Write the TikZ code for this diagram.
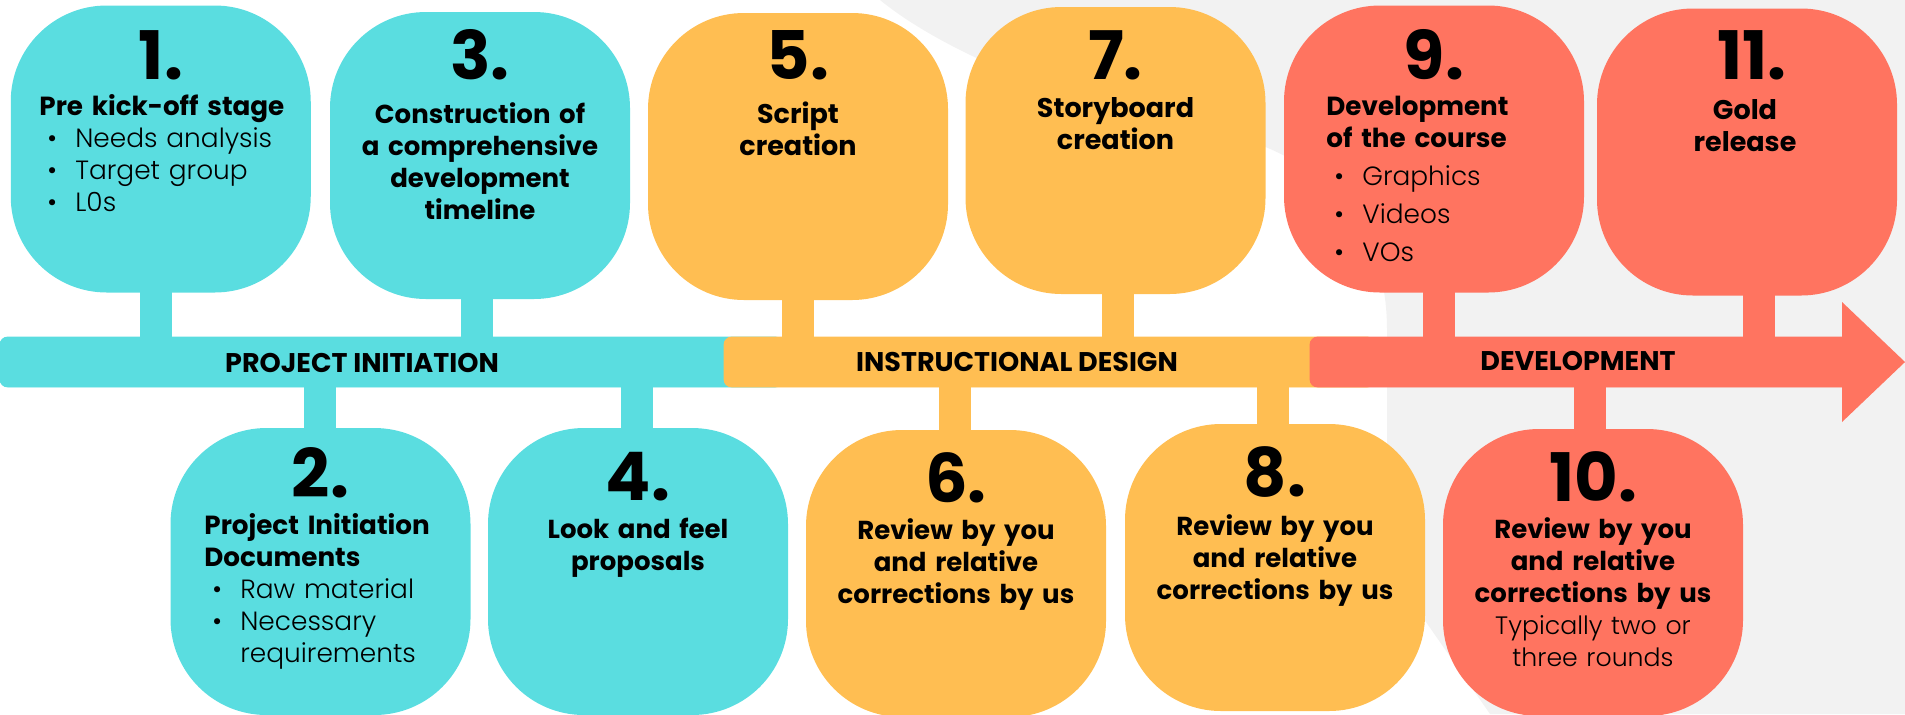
\documentclass[tikz,border=0pt]{standalone}
\usepackage{fontspec}
\setmainfont{Poppins}
\newfontfamily\lightfont{Poppins Light}
\usetikzlibrary{calc}

\definecolor{tealc}{HTML}{5ADDE0}
\definecolor{sunc}{HTML}{FFBE52}
\definecolor{coralc}{HTML}{FF7460}
\definecolor{bggray}{HTML}{F2F2F2}

\tikzset{
  card/.style={rectangle, rounded corners=48pt, minimum width=150pt,
    minimum height=143.5pt, inner sep=0pt},
  band/.style={rectangle, rounded corners=4pt, minimum height=25pt, inner sep=0pt},
  stem/.style={line width=16pt},
  num/.style={anchor=base, inner sep=0pt, font=\fontsize{33.5}{34}\selectfont\bfseries},
  title/.style={anchor=base, inner sep=0pt, text width=150pt, align=center,
    font=\fontsize{13}{16}\selectfont\bfseries},
  list/.style={anchor=base west, inner sep=0pt, text width=145pt, align=left,
    font=\fontsize{13.2}{16}\selectfont\lightfont\mdseries},
  bandlabel/.style={anchor=base, inner sep=0pt, font=\fontsize{13.5}{14}\selectfont\bfseries},
}
\newcommand\itm[1]{\hspace*{4pt}\makebox[14pt][l]{\textbullet}#1}
\newcommand\head[1]{{\fontsize{13.1}{16}\selectfont\normalfont\bfseries #1}}
\newcommand\note[1]{{\fontsize{12.6}{16}\selectfont\lightfont\mdseries #1}}

\begin{document}
\begin{tikzpicture}[x=0.5pt, y=-0.5pt]
\useasboundingbox (0,0) rectangle (1905,714);

% light backdrop on the right
\fill[bggray] (880,0) .. controls (935,45) and (1050,100) .. (1200,128)
  .. controls (1330,152) and (1387,230) .. (1387,330)
  -- (1387,566) -- (1490,714) -- (1905,714) -- (1905,0) -- cycle;

% stem anchor points (one per card)
\coordinate (s1) at (156,149);
\coordinate (s3) at (476.5,155);
\coordinate (s5) at (797.5,156);
\coordinate (s7) at (1118,150);
\coordinate (s9) at (1439,149);
\coordinate (s11) at (1759,152);
\coordinate (s2) at (320,571);
\coordinate (s4) at (637,571);
\coordinate (s6) at (955,573);
\coordinate (s8) at (1272.5,567);
\coordinate (s10) at (1590,572);

% timeline bands (placed first so the stems can refer to them)
\node[band, fill=tealc, minimum width=391.5pt] (pi) at (391.5,362) {};
\node[band, fill=sunc, minimum width=325.5pt] (id) at (1049.5,362) {};
\node[band, fill=coralc, minimum width=275pt] (dev) at (1585,362) {};

% stems from the cards to the bands
\draw[stem, tealc] (s1) -- (s1 |- pi.center);
\draw[stem, tealc] (s3) -- (s3 |- pi.center);
\draw[stem, tealc] (s2) -- (s2 |- pi.center);
\draw[stem, tealc] (s4) -- (s4 |- pi.center);
\draw[stem, sunc] (s5) -- (s5 |- id.center);
\draw[stem, sunc] (s7) -- (s7 |- id.center);
\draw[stem, sunc] (s6) -- (s6 |- id.center);
\draw[stem, sunc] (s8) -- (s8 |- id.center);
\draw[stem, coralc] (s9) -- (s9 |- dev.center);
\draw[stem, coralc] (s11) -- (s11 |- dev.center);
\draw[stem, coralc] (s10) -- (s10 |- dev.center);

% bands again on top of the stems, then the arrow head
\fill[tealc, rounded corners=4pt] (pi.south west) rectangle (pi.north east);
\fill[sunc, rounded corners=4pt] (id.south west) rectangle (id.north east);
\fill[coralc, rounded corners=4pt] (dev.south west) rectangle (dev.north east);
\fill[coralc] (1842,302) -- (1905,362) -- (1842,422) -- cycle;

\node[bandlabel] (l1) at (362,372) {PROJECT INITIATION};
\node[bandlabel] (l2) at (1017,371) {INSTRUCTIONAL DESIGN};
\node[bandlabel] (l3) at (1578,370) {DEVELOPMENT};

% cards, upper row
\node[card, fill=tealc] (b1) at (160.75,149) {};
\node[card, fill=tealc] (b3) at (480,155.5) {};
\node[card, fill=sunc] (b5) at (798,156.5) {};
\node[card, fill=sunc] (b7) at (1115.5,150.5) {};
\node[card, fill=coralc] (b9) at (1434,149) {};
\node[card, fill=coralc] (b11) at (1747,152) {};
% cards, lower row
\node[card, fill=tealc] (b2) at (320.5,571.5) {};
\node[card, fill=tealc] (b4) at (638,571.5) {};
\node[card, fill=sunc] (b6) at (956,573.5) {};
\node[card, fill=sunc] (b8) at (1275,567.5) {};
\node[card, fill=coralc] (b10) at (1593,572.5) {};

% step numbers
\node[num] (n1) at (161,79) {1.};
\node[num] (n3) at (480,79) {3.};
\node[num] (n5) at (798,79) {5.};
\node[num] (n7) at (1115.5,79) {7.};
\node[num] (n9) at (1434,79) {9.};
\node[num] (n11) at (1752,79) {11.};
\node[num] (n2) at (320.5,497) {2.};
\node[num] (n4) at (638,500) {4.};
\node[num] (n6) at (956,502) {6.};
\node[num] (n8) at (1275,496) {8.};
\node[num] (n10) at (1593,501) {10.};

% step descriptions
\node[list] (t1) at (39,115) {\head{Pre kick-off stage}\\
  \itm{Needs analysis}\\ \itm{Target group}\\ \itm{L0s}};
\node[title] (t3) at (480,123) {Construction of\\a comprehensive\\development\\timeline};
\node[title, font=\fontsize{13.5}{16}\selectfont\bfseries] (t5) at (798,123) {Script\\creation};
\node[title, font=\fontsize{13.5}{16}\selectfont\bfseries] (t7) at (1115.5,117) {Storyboard\\creation};
\node[list] (t9) at (1326,115) {\head{Development}\\\head{of the course}\\[3pt]
  \itm{Graphics}\\[3pt] \itm{Videos}\\[3pt] \itm{VOs}};
\node[title, font=\fontsize{13.5}{16}\selectfont\bfseries] (t11) at (1745,119) {Gold\\release};

\node[list] (t2) at (204,534) {\head{Project Initiation}\\\head{Documents}\\
  \itm{Raw material}\\ \itm{Necessary}\\ \hspace*{18pt}requirements};
\node[title] (t4) at (638,538) {Look and feel\\proposals};
\node[title] (t6) at (956,539) {Review by you\\and relative\\corrections by us};
\node[title] (t8) at (1275,535) {Review by you\\and relative\\corrections by us};
\node[title] (t10) at (1593,538) {Review by you\\and relative\\corrections by us\\
  \note{Typically two or}\\ \note{three rounds}};
\end{tikzpicture}
\end{document}
